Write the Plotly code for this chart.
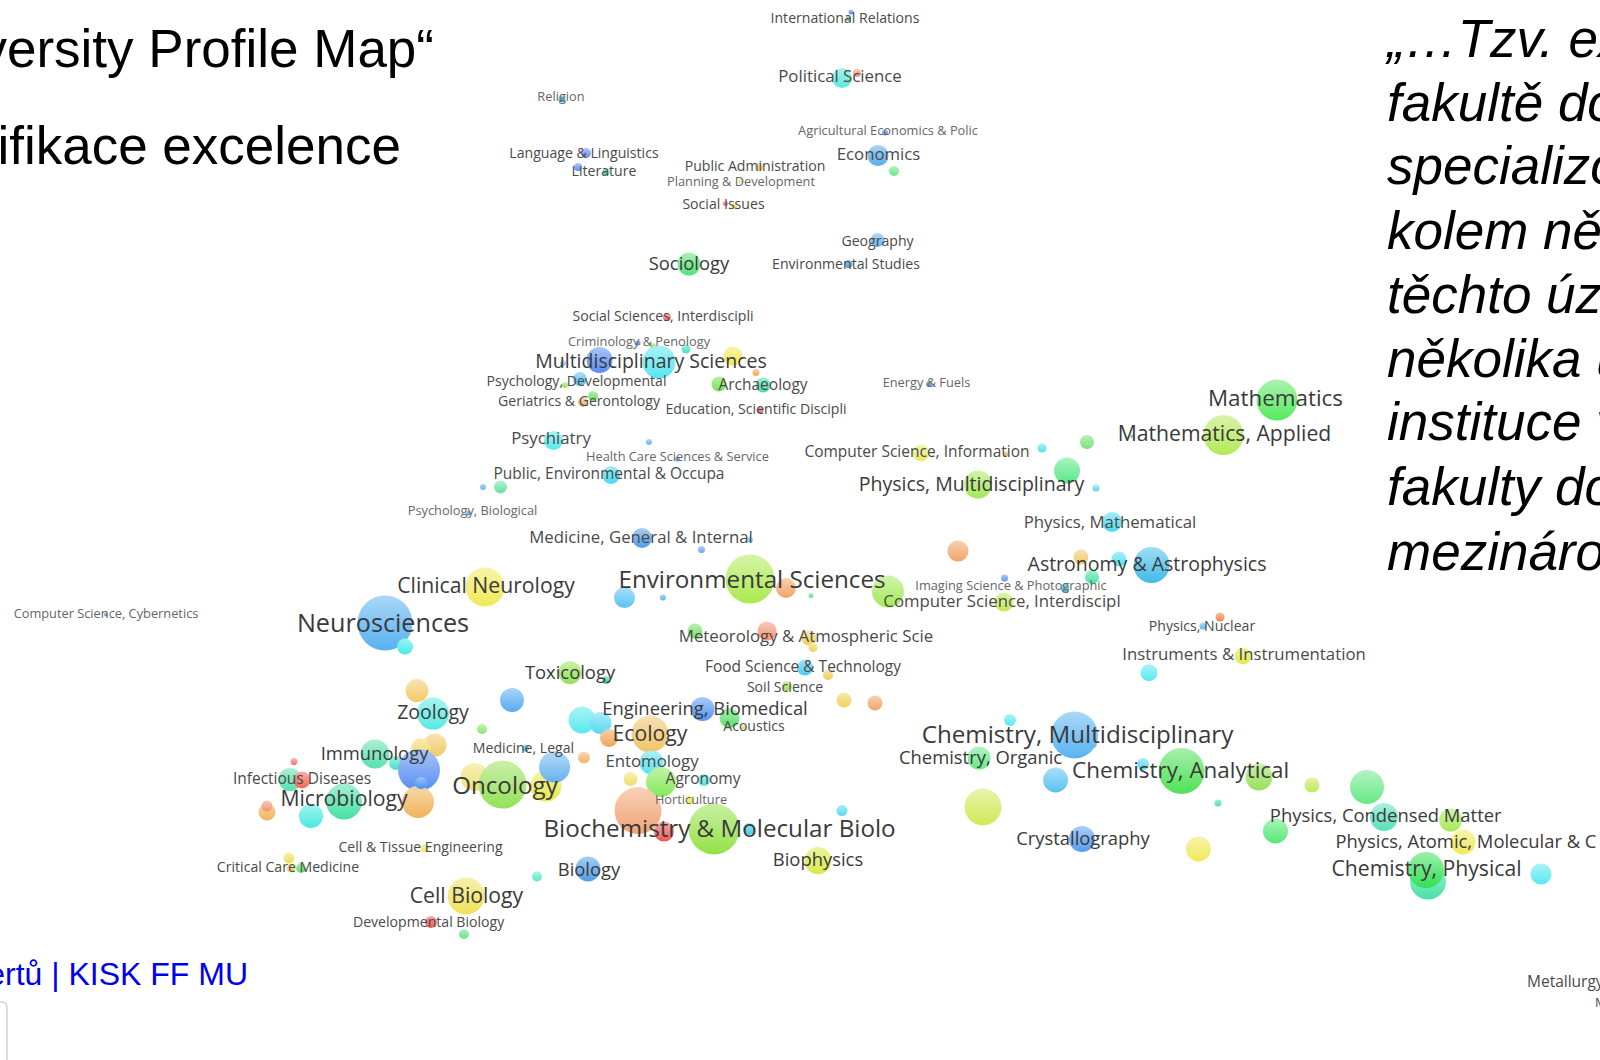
import plotly.graph_objects as go

bubble_x = [562,586,578,606,759,741,725.5,734,689,667,638,653,686,659,599.5,733,756,580,563,565,719,763,593,583,760,553.5,649,677.5,611,500.5,483,468,
851,848.5,842,857,885,878,894,877.5,848.5,929,1277,1223.5,1132,921,1006,1042,1087,1067,1096,978,1112,
642,750,701.5,750,786,485,624.5,663,106,385,405,695,767,570,606,512,417,433,482,435,421,375,396,419,294,290,302,344,418,421,267,267,311,
474.5,502.5,546,554.6,525.5,584,582,600.5,609,650,702.5,729.6,744,805,828,787,651.5,630.6,661,704,690,638,664,714,749,425,289,291,301,588,537,466,431,464,
958,1081,1119,1151.5,1092,1004.6,1065,888,811,1004,1220,1203,1243,1149,809,813,844,875,1010,1093,1074.5,979,1055.6,1143,1181.6,1259,1312,1367,1218,983,842,1384,1450.6,1275.5,1463,1082,1198.5,818,1428,1426,1541]
bubble_y = [99,153,167,172,167,181,203.5,206,264,317,343,346,349,362,360,356,372.5,379,363,385,384,385,396,402,410,440.5,442,459,475,487,487,513,
12,18.6,78,73,132.5,155.5,171,240,264,384,400,435,436,453,454,448,442,470.6,488,484.5,522,
538,539.5,549.6,579,588,587,597.6,597.6,614.5,623,646.6,631,631,672.7,680,700,690.6,713.6,729,745,748,754,763,770,761.6,779.5,780,801.5,802,783,812,806,816,
777,784.6,786,767,748,757.5,720,723,738,734,709,718,727,667.6,675,686,762.6,779,782,780,800,810.6,831.6,829,829,848,858,868,868,869,876.5,896,922,934,
551,557,559,565,577,578,588,591.5,595.6,602,617,626,656,672.7,638,647.6,700,703,720,744,735,758,780,764,771,777,785,787,803,807,810.6,817,820,831,842,839,849,860.6,881.6,870,874]
bubble_d = [7,10,8,7,8,5,5,6,23,8,5,6,9,33,26,19,7,14,6,6,15,15,10,10,7,19,6,5,18,13,6,5,
5,5,20,8,6,21,10,14,8,6,41,40,4,17,5,9,14,26,7,28,20,
20,6,7,49,20,39,21,6,4,55,16,15,19,23,8,24,23,32,10,23,20,29,14,42,7,23,17,36,32,12,17,11,24,
28,48,31,31,7,12,27,22,18,37,24,20,5,16,10,10,24,14,30,12,9,47,20,51,12,8,11,9,10,25,10,37,12,10,
21,15,15,36,14,7,9,32,5,19,9,7,17,17,15,9,15,15,12,8,47,23,25,12,46,27,15,34,7,37,11,28,23,25,25,26,25,27,36,36,21]
bubble_color = ["#3aa0d8","#5a8af0","#5a8af0","#30d0b0","#f0c060","#f0e060","#f06050","#e8d850","#50e070","#f06060","#4878e8","#80e050","#40e0c0","#50e4f0","#5088f0","#f0e850","#f0a050","#50c0f0","#80c0f0","#90e050","#70e050","#40e0a0","#60e060","#f0b060","#f06060","#50e8e8","#60b0f0","#50a0e8","#40d8f0","#60e0a0","#60b0f0","#50a0e0",
"#6080f0","#60c040","#50e8d8","#f09070","#4090e0","#50a8e8","#60e880","#60b0f0","#4098e0","#4090e0","#50e858","#b0e850","#70d060","#e8e860","#f0b050","#50e0f0","#70e070","#50e880","#60d0f0","#a0e850","#40d8f0",
"#4898e8","#50c8f0","#60a0f0","#a8e848","#f0a060","#f0e850","#50c0f0","#50b0f0","#5090e0","#50aef0","#40e8e8","#70e060","#f09070","#90e050","#40d0a0","#50a8f0","#f0c860","#50e8e0","#80e860","#f0c860","#f0d860","#50e0a8","#40e0c0","#5088f0","#f07070","#50e0a8","#f06050","#40e0a0","#f0b050","#4090f0","#f0b050","#f09070","#40e8e0",
"#f0e070","#90e050","#e8e840","#60b0f0","#50b8e8","#f0b060","#50e8f0","#50d8f0","#f0a050","#f0c060","#5090f0","#50e060","#e8d850","#40c8f0","#f0c850","#a0e050","#50e0f0","#f0e060","#80e850","#40e8e0","#e8e850","#f0a070","#f05050","#90e040","#40c8e8","#f0e060","#e8e050","#f0d060","#60d860","#4898e8","#50e8c0","#f0e050","#f05050","#60e080",
"#f0a060","#f0c860","#50e0f0","#38b8e8","#40e0a0","#6090f0","#40b8c8","#a0e850","#50e080","#c0e850","#f08040","#50b8f0","#e0e840","#50e8f0","#f0d050","#f0d050","#f0d050","#f0a060","#50e8f0","#80d850","#50b0f0","#60e880","#50c0f0","#50d8f0","#48e050","#90e050","#c0e850","#60e880","#40e0a0","#d0e850","#50d8f0","#50e0b8","#a0e850","#50e870","#f0e850","#5098f0","#f0e850","#d8e840","#40e0a0","#30e050","#50e8f0"]

label_text = ["International Relations","Political Science","Religion","Agricultural Economics & Polic","Language & Linguistics","Economics","Literature","Public Administration","Planning & Development","Social Issues","Geography","Sociology","Environmental Studies","Social Sciences, Interdiscipli","Criminology & Penology","Multidisciplinary Sciences","Psychology, Developmental","Archaeology","Energy & Fuels","Geriatrics & Gerontology","Education, Scientific Discipli","Mathematics","Mathematics, Applied","Psychiatry","Computer Science, Information","Health Care Sciences & Service","Public, Environmental & Occupa","Physics, Multidisciplinary","Psychology, Biological","Physics, Mathematical","Medicine, General & Internal","Astronomy & Astrophysics","Environmental Sciences","Clinical Neurology","Imaging Science & Photographic","Computer Science, Interdiscipl","Computer Science, Cybernetics","Neurosciences","Physics, Nuclear","Meteorology & Atmospheric Scie","Instruments & Instrumentation","Food Science & Technology","Toxicology","Soil Science","Engineering, Biomedical","Zoology","Acoustics","Ecology","Chemistry, Multidisciplinary","Medicine, Legal","Immunology","Chemistry, Organic","Entomology","Chemistry, Analytical","Infectious Diseases","Agronomy","Oncology","Microbiology","Horticulture","Physics, Condensed Matter","Biochemistry & Molecular Biolo","Physics, Atomic, Molecular & C","Crystallography","Cell & Tissue Engineering","Biophysics","Critical Care Medicine","Chemistry, Physical","Biology","Cell Biology","Developmental Biology"]
label_x = [845,840,561,888,584,878.5,604,755,741,723.5,877.5,689,846,663,639,651,576.5,763,926.5,579,756,1275.5,1224.5,551,917,677.5,609,971.5,472.5,1110,641,1147,752,486,1011,1002,106,383,1202,806,1244,803,570,785,705,433,754,650,1077.5,523.5,374.5,980.6,652,1180.6,302,703,505,344,691,1385.7,719.5,1466,1083,420.5,818,288,1426.5,589,466.5,428.6]
label_y = [19.6,77.5,98,131.6,154,156,172,167,182.6,205,242,265,265,317,343,363.5,382,386,384,402,410,400,435.7,440,453,458,475.5,486,512,523.5,539,566,582,588,587,603,615,625.5,627.5,638,656,668,674,688,710,714,727.5,735.7,737,749,755,759,763,772.5,780.6,780.6,788,801,801,817,831,843,840,848,861,868,871,871,897.5,923]
label_size = [14.1,16.8,12.8,12.8,14.1,16.8,14.1,14.1,12.8,14.1,14.1,18.4,14.1,14.1,12.8,19.5,14.1,15.5,12.8,14.1,14.1,22.4,21.2,16.8,15.5,12.8,15.5,19.5,12.8,16.8,16.8,19.5,24.2,21.2,12.8,16.8,12.8,25.2,14.1,16.8,16.8,15.5,18.4,14.1,18.4,19.5,14.1,21.2,24.2,14.1,18.4,18.4,16.8,22.4,15.5,15.5,24.2,21.2,12.8,18.4,24.2,18.4,18.4,14.1,18.4,14.1,21.2,18.4,21.2,14.1]

edge_text = ["Metallurgy & Metallurgical","Materials Science"]
edge_x = [1527,1595]
edge_y = [983,1004]
edge_size = [15.5,12.8]

title_text = ["University Profile Map“","Identifikace excelence"]
title_x = [434,401]
title_y = [54,151]

quote_lines = ["„…Tzv. excelentní","fakultě dochází","specializovaná","kolem několika","těchto území","několika úzkých","instituce vědců","fakulty dosáhnou","mezinárodní"]
quote_y = [44,108,171,236,300,364,427,492,557]
QUOTE_X = 1387

link_text = ["expertů | KISK FF MU"]
link_x = [248]
link_y = [977]


def lighten(c, f):
    r, g, b = int(c[1:3], 16), int(c[3:5], 16), int(c[5:7], 16)
    return "#%02x%02x%02x" % tuple(int(v + (255 - v) * f) for v in (r, g, b))


fig = go.Figure()
fig.add_trace(go.Scatter(
    x=bubble_x, y=bubble_y, mode="markers", hoverinfo="skip",
    marker=dict(size=bubble_d, color=[lighten(c, 0.5) for c in bubble_color], opacity=0.96,
                line=dict(width=0),
                gradient=dict(type="vertical", color=bubble_color)),
))
fig.add_trace(go.Scatter(
    x=label_x, y=label_y, text=label_text, mode="text", textposition="middle center",
    textfont=dict(family="Open Sans", size=label_size,
                  color=["#666666" if s < 14 else "#4a4a4a" if s < 18 else "#3a3a3a" for s in label_size]),
))
fig.add_trace(go.Scatter(
    x=edge_x, y=edge_y, text=edge_text, mode="text", textposition="middle right",
    textfont=dict(family="Open Sans", size=edge_size, color="#4a4a4a"),
))
fig.add_trace(go.Scatter(
    x=title_x, y=title_y, text=title_text, mode="text", textposition="middle left",
    textfont=dict(family="Liberation Sans", size=53, color="#000000"),
))
fig.add_trace(go.Scatter(
    x=[QUOTE_X] * len(quote_lines), y=quote_y, text=quote_lines, mode="text", textposition="middle right",
    textfont=dict(family="Liberation Sans", size=53, color="#000000", style="italic"),
))
fig.add_trace(go.Scatter(
    x=link_x, y=link_y, text=link_text, mode="text", textposition="middle left",
    textfont=dict(family="Liberation Sans", size=32, color="#0000ee"),
))

fig.update_layout(
    width=1600, height=1060, margin=dict(l=0, r=0, t=0, b=0), showlegend=False,
    paper_bgcolor="white", plot_bgcolor="white",
    xaxis=dict(range=[0, 1600], visible=False, fixedrange=True),
    yaxis=dict(range=[1060, 0], visible=False, fixedrange=True),
    shapes=[dict(type="path", path="M -10 1002 L 2 1002 Q 7 1002 7 1008 L 7 1060",
                 line=dict(color="#d4d4d4", width=1.5))],
)
fig.write_html("out.html", config=dict(displayModeBar=False),
               post_script="document.body.style.margin='0';document.documentElement.style.overflow='hidden';")
